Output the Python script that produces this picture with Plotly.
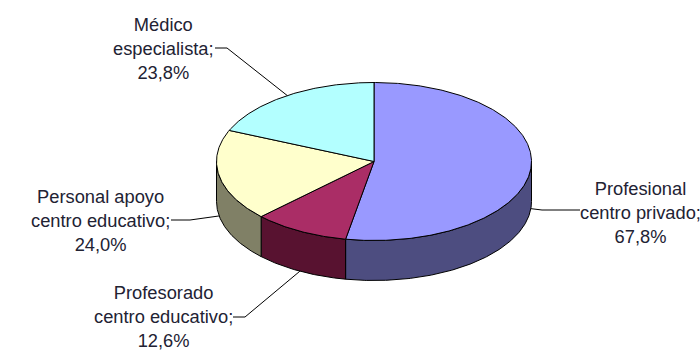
import numpy as np
import plotly.graph_objects as go

# Survey shares (multiple answers allowed, so they do not add up to 100)
categories = [
    "Profesional<br>centro privado;",
    "Profesorado<br>centro educativo;",
    "Personal apoyo<br>centro educativo;",
    "Médico<br>especialista;",
]
values = [67.8, 12.6, 24.0, 23.8]
top_colors = ["#9999FF", "#AA2D66", "#FFFFCC", "#B3FFFF"]
side_colors = ["#4D4D80", "#581230", "#808066", "#5A8080"]

# Centre of each label block, and the bend and far end of its leader line
label_centers = [(640, 212), (163, 316), (100, 220), (163, 48)]
leader_bends = [(542, 210), (245, 317), (190, 220), (227, 48)]
leader_ends = [(580, 210), (233, 317), (171, 220), (215, 48)]

CX, CY = 374, 161.5
RX, RY = 157.5, 79
DEPTH = 40
FONT = "Liberation Sans, Arial, sans-serif"
FONT_SIZE = 18.3


def rim(a_from, a_to, drop=0.0):
    """Points on the elliptical rim; angles run clockwise from 12 o'clock."""
    a = np.radians(np.linspace(a_from, a_to, max(2, int(abs(a_to - a_from)) * 2)))
    return CX + RX * np.sin(a), CY - RY * np.cos(a) + drop


sweeps = 360 * np.array(values) / sum(values)
edges = np.concatenate([[0], np.cumsum(sweeps)])

fig = go.Figure()

# Side walls of the disc: only the front half (90° to 270°) is visible
for i in range(len(values)):
    lo, hi = max(edges[i], 90), min(edges[i + 1], 270)
    if lo >= hi:
        continue
    xt, yt = rim(lo, hi)
    xb, yb = rim(hi, lo, DEPTH)
    fig.add_trace(go.Scatter(
        x=np.r_[xt, xb, xt[0]], y=np.r_[yt, yb, yt[0]],
        mode="lines", fill="toself", fillcolor=side_colors[i],
        line=dict(color="#000000", width=1), hoverinfo="skip",
    ))

# Top face slices
for i in range(len(values)):
    xa, ya = rim(edges[i], edges[i + 1])
    fig.add_trace(go.Scatter(
        x=np.r_[CX, xa, CX], y=np.r_[CY, ya, CY],
        mode="lines", fill="toself", fillcolor=top_colors[i],
        line=dict(color="#000000", width=1), hoverinfo="skip",
    ))

# Leader lines run from the middle of each slice's outer edge to its label
for i in range(len(values)):
    mid = (edges[i] + edges[i + 1]) / 2
    drop = DEPTH if 90 <= mid <= 270 else 0
    ex, ey = rim(mid, mid, drop)
    fig.add_trace(go.Scatter(
        x=[ex[0], leader_bends[i][0], leader_ends[i][0]],
        y=[ey[0], leader_bends[i][1], leader_ends[i][1]],
        mode="lines", line=dict(color="#000000", width=1), hoverinfo="skip",
    ))
    label = f"{categories[i]}<br>{values[i]:.1f}%".replace(".", ",")
    fig.add_annotation(
        x=label_centers[i][0], y=label_centers[i][1], text=label,
        showarrow=False, xanchor="center", yanchor="middle", align="center",
        font=dict(family=FONT, size=FONT_SIZE, color="#222233"),
    )

fig.update_layout(
    width=700, height=350, showlegend=False,
    margin=dict(l=0, r=0, t=0, b=0),
    paper_bgcolor="#FFFFFF", plot_bgcolor="#FFFFFF",
    xaxis=dict(range=[0, 700], visible=False, fixedrange=True),
    yaxis=dict(range=[350, 0], visible=False, fixedrange=True),
)
fig.write_html("out.html", config={"displayModeBar": False})
